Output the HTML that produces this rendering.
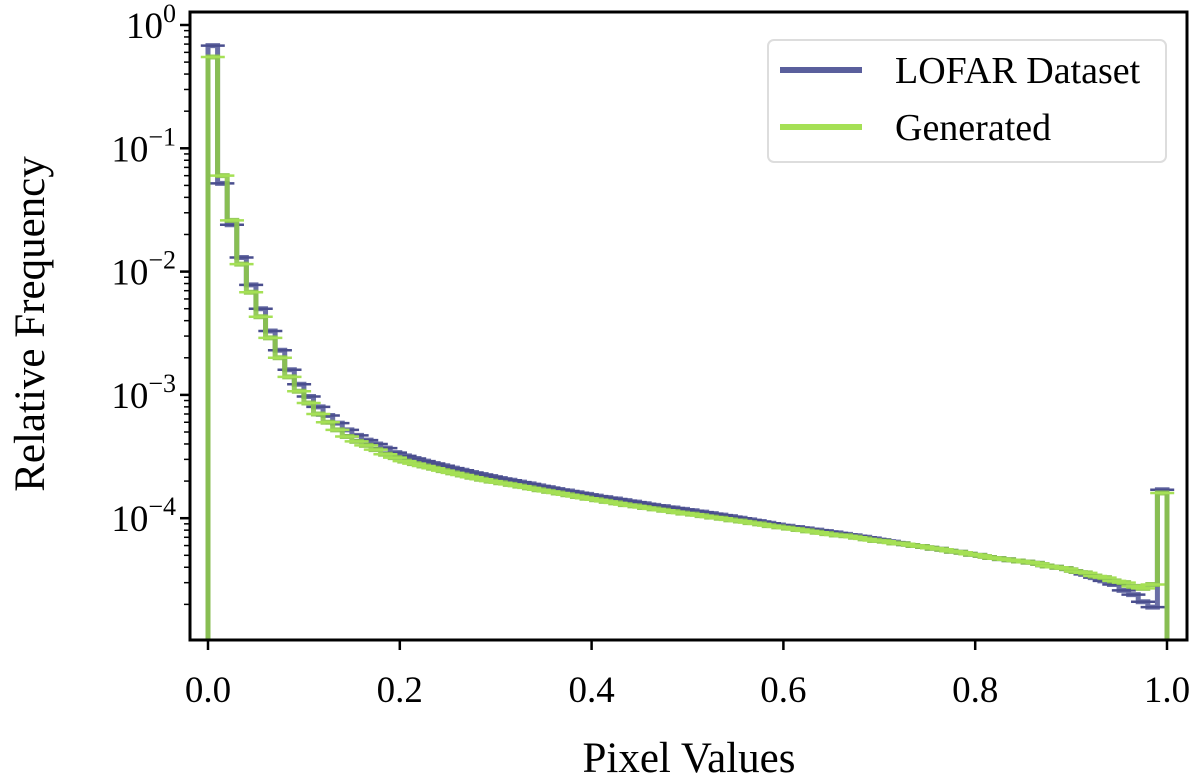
<!DOCTYPE html>
<html><head><meta charset="utf-8"><style>
body{margin:0;background:#fff}
svg{display:block;font-family:"Liberation Serif",serif}
</style></head><body>
<svg id="chart" width="1200" height="780" viewBox="0 0 1200 780" xmlns="http://www.w3.org/2000/svg">
<g id="plot"></g>
<g id="axes"></g>
<text x="689" y="772" font-size="43" text-anchor="middle">Pixel Values</text>
<text transform="translate(44,324) rotate(-90)" font-size="43" text-anchor="middle">Relative Frequency</text>
<g>
<rect x="768" y="40" width="398" height="122" rx="6" fill="#fff" stroke="#ddd" stroke-width="2"/>
<line x1="780" y1="70" x2="862" y2="70" stroke="#5a5f9c" stroke-width="6"/>
<text x="895" y="83" font-size="38">LOFAR Dataset</text>
<line x1="780" y1="127" x2="862" y2="127" stroke="#a5e055" stroke-width="6"/>
<text x="895" y="140" font-size="38">Generated</text>
</g>
</svg>
<script>
const lofarValues=[.68,.052,.024,.013,.0078,.005,.0033,.0023,.0016,.00122,
.00097,.0008,.00068,.00059,.00052,.00047,.00043,.0004,.00037,.00034,
.00032,.000305,.00029,.000278,.000266,.000255,.000245,.000235,.000226,.000218,
.00021,.000203,.000196,.00019,.000183,.000177,.000171,.000166,.000161,.000156,
.000151,.000147,.000143,.000139,.000135,.000131,.000127,.000124,.000121,.000118,
.000115,.000112,.000109,.000106,.000103,.0001,.000097,.000094,.000091,.000088,
.000086,.000084,.000082,.00008,.000078,.000076,.000074,.000072,.00007,.000068,
.000066,.000064,.000062,.00006,.000059,.000057,.000056,.000054,.000053,.000051,
.00005,.000048,.000047,.000046,.000045,.000044,.000043,.000041,.00004,.000039,
.000037,.000035,.000033,.000031,.000029,.000026,.000024,.000021,.000019,.00017];
const generatedValues=[.55,.06,.026,.0115,.0068,.0043,.0029,.002,.0014,.00107,
.00086,.0007,.0006,.00052,.00046,.00042,.00039,.00036,.00033,.00031,
.00029,.000277,.000265,.000254,.000243,.000233,.000224,.000215,.000207,.0002,
.000194,.000188,.000182,.000176,.00017,.000165,.00016,.000155,.00015,.000145,
.000141,.000137,.000133,.000129,.000126,.000122,.000119,.000116,.000113,.00011,
.000108,.000105,.000102,.0001,.000097,.000095,.000092,.00009,.000087,.000085,
.000083,.000081,.000079,.000077,.000075,.000073,.000072,.00007,.000068,.000066,
.000065,.000063,.000062,.00006,.000059,.000057,.000056,.000054,.000053,.000051,
.00005,.000048,.000047,.000046,.000045,.000044,.000043,.000041,.00004,.000039,
.000037,.000036,.000034,.000033,.000031,.00003,.000028,.000027,.000029,.00016];
const binWidth=0.01;
const xTicks=[0,0.2,0.4,0.6,0.8,1.0];
const xTickLabels=["0.0","0.2","0.4","0.6","0.8","1.0"];
const yTickExps=[0,-1,-2,-3,-4];

const NS="http://www.w3.org/2000/svg";
const L=190,R=1187,T=12,B=640;
const X=v=>208+v*959;
const Y=v=>25-Math.log10(v)*123.3;
const plot=document.getElementById('plot'),axes=document.getElementById('axes');
function mk(tag,attrs,parent){const e=document.createElementNS(NS,tag);for(const k in attrs)e.setAttribute(k,attrs[k]);parent.appendChild(e);return e;}

function drawSeries(vals,color,capColor,name){
  let d=`M${X(0)},${B}`;
  vals.forEach((v,i)=>{d+=` L${X(i*binWidth)},${Y(v)} L${X((i+1)*binWidth)},${Y(v)}`;});
  d+=` L${X(vals.length*binWidth)},${B}`;
  const p=mk('path',{d:d,fill:'none',stroke:color,'stroke-width':5,'stroke-linejoin':'miter',opacity:0.9},plot);
  
  
  vals.forEach((v,i)=>{
    const cx=X((i+0.5)*binWidth);
    const c=mk('line',{x1:cx-12,x2:cx+12,y1:Y(v),y2:Y(v),stroke:capColor,'stroke-width':2.5},plot);
    
    
  });
}
drawSeries(lofarValues,'#5a5f9c','#4a4e8e','lofar');
drawSeries(generatedValues,'#8cc64a','#a5e055','generated');

const fr=mk('rect',{x:L,y:T,width:R-L,height:B-T,fill:'none',stroke:'#000','stroke-width':3},axes);


xTicks.forEach((t,i)=>{
  const tk=mk('line',{x1:X(t),x2:X(t),y1:B,y2:B+10,stroke:'#000','stroke-width':2.5},axes);
  
  
  const tx=mk('text',{x:X(t),y:B+62,'font-size':37,'text-anchor':'middle'},axes);
  tx.textContent=xTickLabels[i];
  
  
});
yTickExps.forEach(e=>{
  const y=Y(Math.pow(10,e));
  const tk=mk('line',{x1:L-10,x2:L,y1:y,y2:y,stroke:'#000','stroke-width':2.5},axes);
  
  
  const tx=mk('text',{x:L-14,y:y+13,'font-size':37,'text-anchor':'end'},axes);
  tx.innerHTML='10<tspan dy="-16" font-size="26">'+(e<0?'\u2212'+(-e):e)+'</tspan>';
  
  
});
for(let e=-5;e<=0;e++){for(let m=2;m<=9;m++){
  const y=Y(m*Math.pow(10,e));if(y<T||y>B)continue;
  const tk=mk('line',{x1:L-6,x2:L,y1:y,y2:y,stroke:'#000','stroke-width':1.5},axes);
  
  
}}
</script>
</body></html>
